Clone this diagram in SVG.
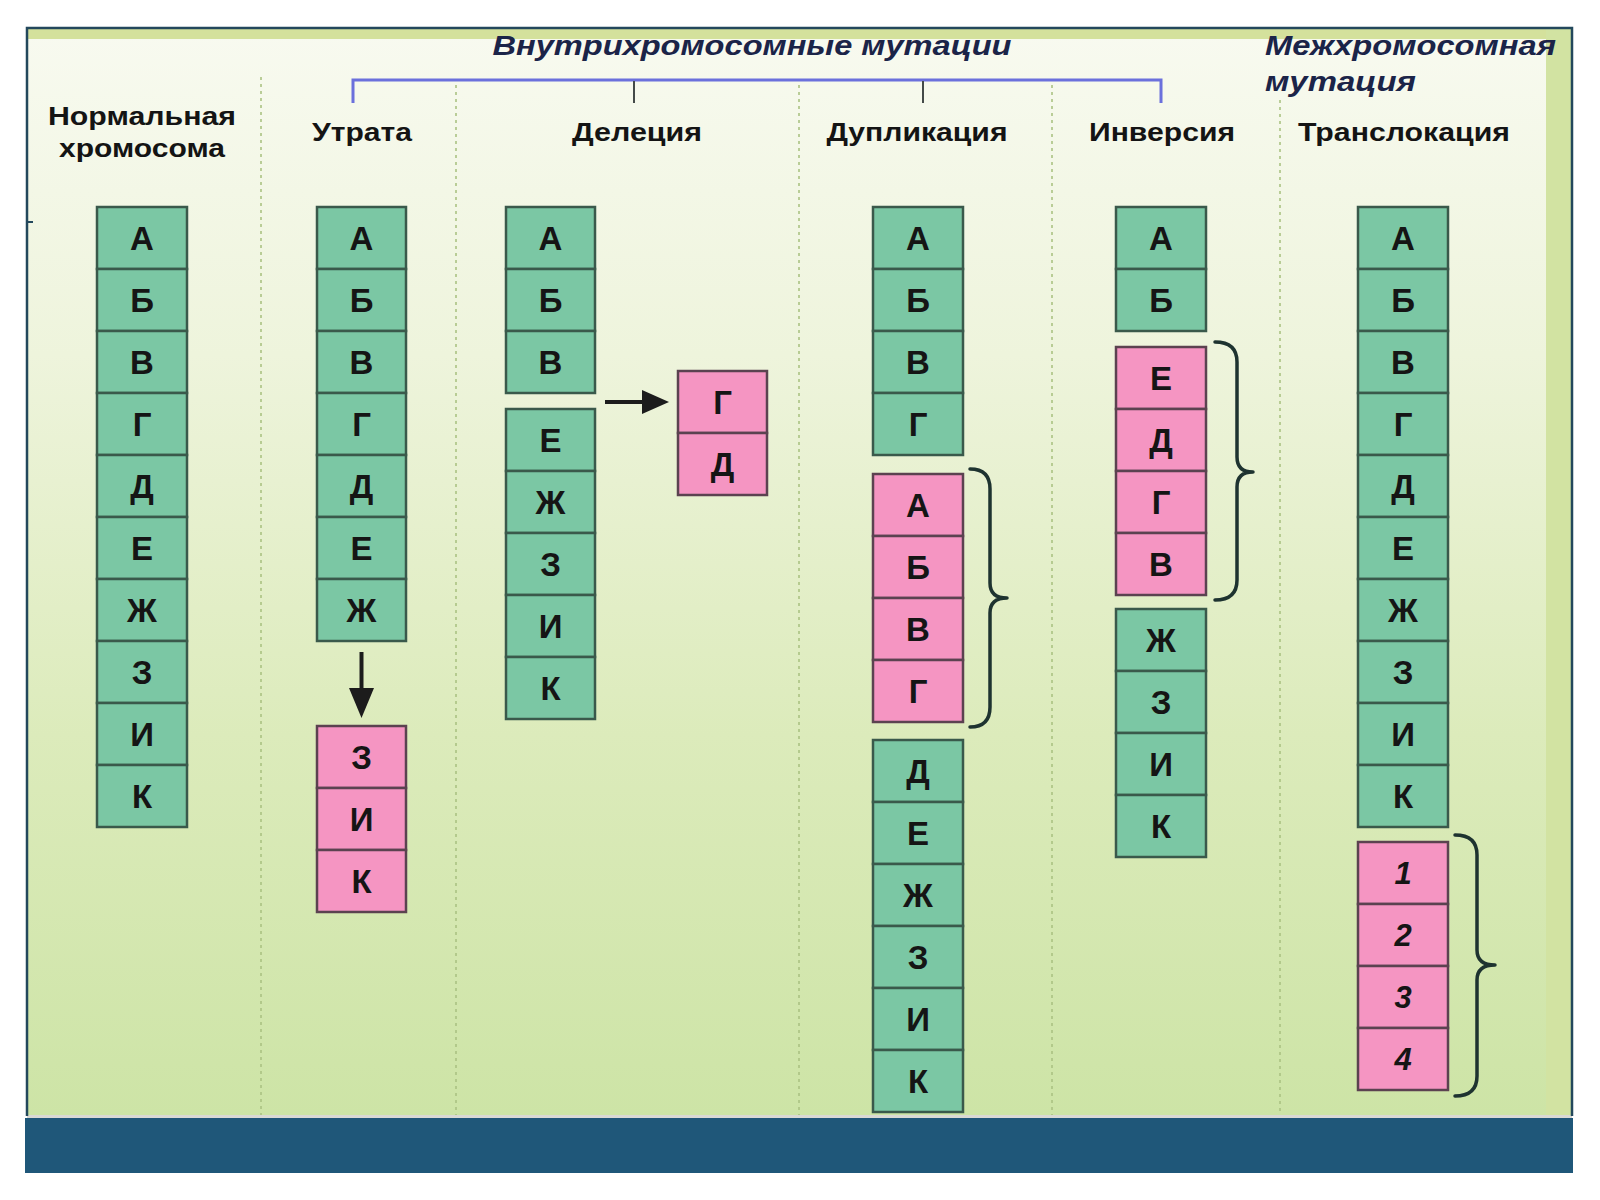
<svg xmlns="http://www.w3.org/2000/svg" width="1600" height="1200" viewBox="0 0 1600 1200">
<defs>
<linearGradient id="bg" x1="0" y1="0" x2="0" y2="1">
<stop offset="0" stop-color="#f8faf0"/>
<stop offset="0.3" stop-color="#eef4dc"/>
<stop offset="0.65" stop-color="#dcebbb"/>
<stop offset="1" stop-color="#cde4a6"/>
</linearGradient>
<style>
.g{fill:#7bc7a4;stroke:#3a594b;stroke-width:2.5}
.p{fill:#f595c2;stroke:#5b4250;stroke-width:2.5}
.t{font-family:"Liberation Sans",Arial,sans-serif;font-weight:bold;font-size:33px;fill:#151515;text-anchor:middle}
.n{font-family:"Liberation Sans",Arial,sans-serif;font-weight:bold;font-style:italic;font-size:31px;fill:#151515;text-anchor:middle}
.h{font-family:"Liberation Sans",Arial,sans-serif;font-weight:bold;font-size:26px;fill:#141414;text-anchor:middle}
.ti{font-family:"Liberation Sans",Arial,sans-serif;font-weight:bold;font-style:italic;font-size:28px;fill:#1b2448}
.div{stroke:#abc283;stroke-width:1.6;stroke-dasharray:3 4;fill:none}
.br{fill:none;stroke:#1e3330;stroke-width:3.5;stroke-linecap:round;stroke-linejoin:round}
.ar{stroke:#1c1c1c;stroke-width:4;fill:none}
.ah{fill:#1c1c1c}
</style>
</defs>

<g id="background">
<rect x="0" y="0" width="1600" height="1200" fill="#ffffff"/>
<rect x="27" y="28" width="1545" height="1088" fill="url(#bg)"/>
<rect x="27" y="28" width="1545" height="11" fill="#d4e19c"/>
<rect x="1546" y="28" width="26" height="1088" fill="#d2e3a2"/>
<rect x="27" y="1115" width="1545" height="3" fill="#d9d9d4"/>
<rect x="25" y="1118" width="1548" height="55" fill="#1f5779"/>
<path d="M27,1116 L27,28 L1572,28 L1572,1116" fill="none" stroke="#23485c" stroke-width="2.5"/>
<line x1="27" y1="222" x2="33" y2="222" stroke="#23485c" stroke-width="2"/>
</g>

<g id="dividers">
<line class="div" x1="261" y1="77" x2="261" y2="1115"/>
<line class="div" x1="456" y1="85" x2="456" y2="1115"/>
<line class="div" x1="799" y1="85" x2="799" y2="1115"/>
<line class="div" x1="1052" y1="85" x2="1052" y2="1115"/>
<line class="div" x1="1280" y1="100" x2="1280" y2="1115"/>
</g>

<g id="titles">
<text class="ti" x="752" y="55" text-anchor="middle" textLength="519" lengthAdjust="spacingAndGlyphs">Внутрихромосомные мутации</text>
<text class="ti" x="1265" y="55" textLength="291" lengthAdjust="spacingAndGlyphs">Межхромосомная</text>
<text class="ti" x="1265" y="91" textLength="151" lengthAdjust="spacingAndGlyphs">мутация</text>
</g>

<g id="bracket">
<path d="M353,103 L353,80 L1161,80 L1161,103" fill="none" stroke="#6b70dc" stroke-width="3"/>
<line x1="634" y1="81" x2="634" y2="103" stroke="#444a48" stroke-width="2"/>
<line x1="923" y1="81" x2="923" y2="103" stroke="#444a48" stroke-width="2"/>
</g>

<g id="col-normal">
<text class="h" x="142" y="125" textLength="188" lengthAdjust="spacingAndGlyphs">Нормальная</text>
<text class="h" x="142" y="157" textLength="166" lengthAdjust="spacingAndGlyphs">хромосома</text>
<rect class="g" x="97" y="207" width="90" height="62"/><text class="t" x="142" y="250">А</text>
<rect class="g" x="97" y="269" width="90" height="62"/><text class="t" x="142" y="312">Б</text>
<rect class="g" x="97" y="331" width="90" height="62"/><text class="t" x="142" y="374">В</text>
<rect class="g" x="97" y="393" width="90" height="62"/><text class="t" x="142" y="436">Г</text>
<rect class="g" x="97" y="455" width="90" height="62"/><text class="t" x="142" y="498">Д</text>
<rect class="g" x="97" y="517" width="90" height="62"/><text class="t" x="142" y="560">Е</text>
<rect class="g" x="97" y="579" width="90" height="62"/><text class="t" x="142" y="622">Ж</text>
<rect class="g" x="97" y="641" width="90" height="62"/><text class="t" x="142" y="684">З</text>
<rect class="g" x="97" y="703" width="90" height="62"/><text class="t" x="142" y="746">И</text>
<rect class="g" x="97" y="765" width="90" height="62"/><text class="t" x="142" y="808">К</text>
</g>

<g id="col-loss">
<text class="h" x="362" y="141" textLength="100" lengthAdjust="spacingAndGlyphs">Утрата</text>
<rect class="g" x="317" y="207" width="89" height="62"/><text class="t" x="361.5" y="250">А</text>
<rect class="g" x="317" y="269" width="89" height="62"/><text class="t" x="361.5" y="312">Б</text>
<rect class="g" x="317" y="331" width="89" height="62"/><text class="t" x="361.5" y="374">В</text>
<rect class="g" x="317" y="393" width="89" height="62"/><text class="t" x="361.5" y="436">Г</text>
<rect class="g" x="317" y="455" width="89" height="62"/><text class="t" x="361.5" y="498">Д</text>
<rect class="g" x="317" y="517" width="89" height="62"/><text class="t" x="361.5" y="560">Е</text>
<rect class="g" x="317" y="579" width="89" height="62"/><text class="t" x="361.5" y="622">Ж</text>
<rect class="p" x="317" y="726" width="89" height="62"/><text class="t" x="361.5" y="769">З</text>
<rect class="p" x="317" y="788" width="89" height="62"/><text class="t" x="361.5" y="831">И</text>
<rect class="p" x="317" y="850" width="89" height="62"/><text class="t" x="361.5" y="893">К</text>
</g>

<g id="col-deletion">
<text class="h" x="637" y="141" textLength="130" lengthAdjust="spacingAndGlyphs">Делеция</text>
<rect class="g" x="506" y="207" width="89" height="62"/><text class="t" x="550.5" y="250">А</text>
<rect class="g" x="506" y="269" width="89" height="62"/><text class="t" x="550.5" y="312">Б</text>
<rect class="g" x="506" y="331" width="89" height="62"/><text class="t" x="550.5" y="374">В</text>
<rect class="g" x="506" y="409" width="89" height="62"/><text class="t" x="550.5" y="452">Е</text>
<rect class="g" x="506" y="471" width="89" height="62"/><text class="t" x="550.5" y="514">Ж</text>
<rect class="g" x="506" y="533" width="89" height="62"/><text class="t" x="550.5" y="576">З</text>
<rect class="g" x="506" y="595" width="89" height="62"/><text class="t" x="550.5" y="638">И</text>
<rect class="g" x="506" y="657" width="89" height="62"/><text class="t" x="550.5" y="700">К</text>
</g>

<g id="deleted-fragment">
<rect class="p" x="678" y="371" width="89" height="62"/><text class="t" x="722.5" y="414">Г</text>
<rect class="p" x="678" y="433" width="89" height="62"/><text class="t" x="722.5" y="476">Д</text>
</g>

<g id="col-duplication">
<text class="h" x="917" y="141" textLength="181" lengthAdjust="spacingAndGlyphs">Дупликация</text>
<rect class="g" x="873" y="207" width="90" height="62"/><text class="t" x="918" y="250">А</text>
<rect class="g" x="873" y="269" width="90" height="62"/><text class="t" x="918" y="312">Б</text>
<rect class="g" x="873" y="331" width="90" height="62"/><text class="t" x="918" y="374">В</text>
<rect class="g" x="873" y="393" width="90" height="62"/><text class="t" x="918" y="436">Г</text>
<rect class="p" x="873" y="474" width="90" height="62"/><text class="t" x="918" y="517">А</text>
<rect class="p" x="873" y="536" width="90" height="62"/><text class="t" x="918" y="579">Б</text>
<rect class="p" x="873" y="598" width="90" height="62"/><text class="t" x="918" y="641">В</text>
<rect class="p" x="873" y="660" width="90" height="62"/><text class="t" x="918" y="703">Г</text>
<rect class="g" x="873" y="740" width="90" height="62"/><text class="t" x="918" y="783">Д</text>
<rect class="g" x="873" y="802" width="90" height="62"/><text class="t" x="918" y="845">Е</text>
<rect class="g" x="873" y="864" width="90" height="62"/><text class="t" x="918" y="907">Ж</text>
<rect class="g" x="873" y="926" width="90" height="62"/><text class="t" x="918" y="969">З</text>
<rect class="g" x="873" y="988" width="90" height="62"/><text class="t" x="918" y="1031">И</text>
<rect class="g" x="873" y="1050" width="90" height="62"/><text class="t" x="918" y="1093">К</text>
</g>

<g id="col-inversion">
<text class="h" x="1162" y="141" textLength="146" lengthAdjust="spacingAndGlyphs">Инверсия</text>
<rect class="g" x="1116" y="207" width="90" height="62"/><text class="t" x="1161" y="250">А</text>
<rect class="g" x="1116" y="269" width="90" height="62"/><text class="t" x="1161" y="312">Б</text>
<rect class="p" x="1116" y="347" width="90" height="62"/><text class="t" x="1161" y="390">Е</text>
<rect class="p" x="1116" y="409" width="90" height="62"/><text class="t" x="1161" y="452">Д</text>
<rect class="p" x="1116" y="471" width="90" height="62"/><text class="t" x="1161" y="514">Г</text>
<rect class="p" x="1116" y="533" width="90" height="62"/><text class="t" x="1161" y="576">В</text>
<rect class="g" x="1116" y="609" width="90" height="62"/><text class="t" x="1161" y="652">Ж</text>
<rect class="g" x="1116" y="671" width="90" height="62"/><text class="t" x="1161" y="714">З</text>
<rect class="g" x="1116" y="733" width="90" height="62"/><text class="t" x="1161" y="776">И</text>
<rect class="g" x="1116" y="795" width="90" height="62"/><text class="t" x="1161" y="838">К</text>
</g>

<g id="col-translocation">
<text class="h" x="1404" y="141" textLength="212" lengthAdjust="spacingAndGlyphs">Транслокация</text>
<rect class="g" x="1358" y="207" width="90" height="62"/><text class="t" x="1403" y="250">А</text>
<rect class="g" x="1358" y="269" width="90" height="62"/><text class="t" x="1403" y="312">Б</text>
<rect class="g" x="1358" y="331" width="90" height="62"/><text class="t" x="1403" y="374">В</text>
<rect class="g" x="1358" y="393" width="90" height="62"/><text class="t" x="1403" y="436">Г</text>
<rect class="g" x="1358" y="455" width="90" height="62"/><text class="t" x="1403" y="498">Д</text>
<rect class="g" x="1358" y="517" width="90" height="62"/><text class="t" x="1403" y="560">Е</text>
<rect class="g" x="1358" y="579" width="90" height="62"/><text class="t" x="1403" y="622">Ж</text>
<rect class="g" x="1358" y="641" width="90" height="62"/><text class="t" x="1403" y="684">З</text>
<rect class="g" x="1358" y="703" width="90" height="62"/><text class="t" x="1403" y="746">И</text>
<rect class="g" x="1358" y="765" width="90" height="62"/><text class="t" x="1403" y="808">К</text>
<rect class="p" x="1358" y="842" width="90" height="62"/><text class="n" x="1403" y="884">1</text>
<rect class="p" x="1358" y="904" width="90" height="62"/><text class="n" x="1403" y="946">2</text>
<rect class="p" x="1358" y="966" width="90" height="62"/><text class="n" x="1403" y="1008">3</text>
<rect class="p" x="1358" y="1028" width="90" height="62"/><text class="n" x="1403" y="1070">4</text>
</g>

<g id="connectors">
<line class="ar" x1="361.5" y1="652" x2="361.5" y2="692"/>
<polygon class="ah" points="349,688 374,688 361.5,718"/>
<line class="ar" x1="605" y1="402" x2="646" y2="402"/>
<polygon class="ah" points="642,390 642,414 669,402"/>
<path class="br" d="M970,469 Q990,469 990,489 L990,583 Q990,598 1007,598 Q990,598 990,613 L990,707 Q990,727 970,727"/>
<path class="br" d="M1215,342 Q1237,342 1237,362 L1237,457 Q1237,472 1253,472 Q1237,472 1237,487 L1237,580 Q1237,600 1215,600"/>
<path class="br" d="M1455,835 Q1477,835 1477,855 L1477,950 Q1477,965 1495,965 Q1477,965 1477,980 L1477,1076 Q1477,1096 1455,1096"/>
</g>
</svg>
